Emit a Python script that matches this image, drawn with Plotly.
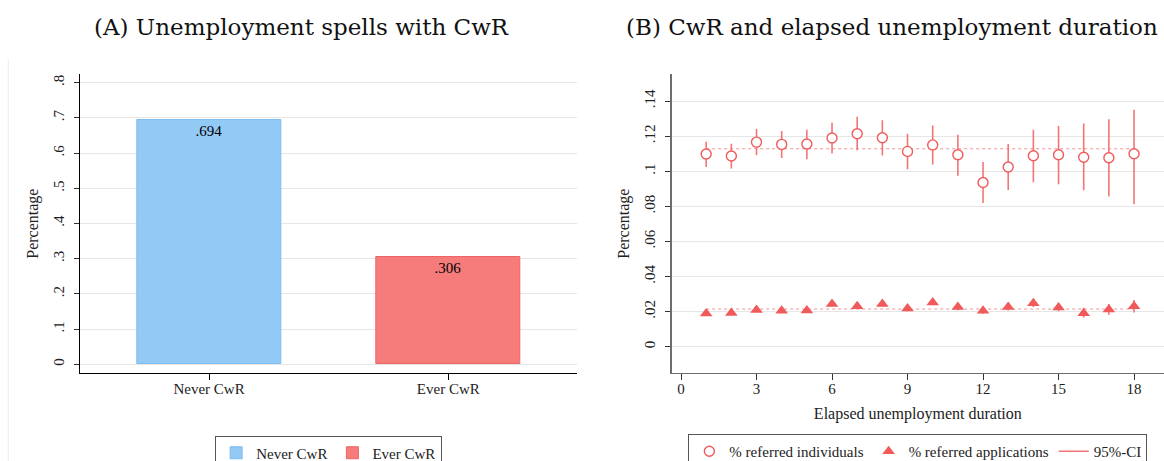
import plotly.graph_objects as go

# ---- Panel A: share of unemployment spells by CwR status ----
spell_groups = ["Never CwR", "Ever CwR"]
spell_shares = [0.694, 0.306]
bar_fill = ["#92C9F5", "#F67B7B"]
bar_edge = ["#7DBDF0", "#EE6464"]
share_ticks = [0, 0.1, 0.2, 0.3, 0.4, 0.5, 0.6, 0.7, 0.8]
share_tick_text = ["0", ".1", ".2", ".3", ".4", ".5", ".6", ".7", ".8"]

# ---- Panel B: CwR by elapsed unemployment duration (months) ----
months = list(range(1, 19))
ind_share = [0.1098, 0.1087, 0.1166, 0.1153, 0.1155, 0.1189, 0.1214, 0.1191, 0.1113,
             0.1150, 0.1094, 0.0936, 0.1024, 0.1088, 0.1094, 0.1080, 0.1077, 0.1100]
ind_lo = [0.1024, 0.1016, 0.1093, 0.1075, 0.1069, 0.1101, 0.1119, 0.1090, 0.1011,
          0.1039, 0.0975, 0.0819, 0.0893, 0.0938, 0.0926, 0.0892, 0.0856, 0.0812]
ind_hi = [0.1168, 0.1156, 0.1241, 0.1230, 0.1236, 0.1276, 0.1310, 0.1291, 0.1213,
          0.1260, 0.1208, 0.1052, 0.1155, 0.1236, 0.1258, 0.1272, 0.1296, 0.1350]
app_share = [0.0190, 0.0192, 0.0210, 0.0205, 0.0207, 0.0244, 0.0231, 0.0244, 0.0218,
             0.0252, 0.0226, 0.0206, 0.0226, 0.0248, 0.0224, 0.0191, 0.0213, 0.0231]
app_lo = [0.0178, 0.0180, 0.0198, 0.0193, 0.0195, 0.0230, 0.0217, 0.0229, 0.0203,
          0.0236, 0.0208, 0.0188, 0.0207, 0.0226, 0.0203, 0.0167, 0.0182, 0.0195]
app_hi = [0.0202, 0.0204, 0.0222, 0.0217, 0.0219, 0.0258, 0.0245, 0.0259, 0.0233,
          0.0268, 0.0244, 0.0224, 0.0245, 0.0270, 0.0245, 0.0222, 0.0244, 0.0267]
ind_mean = 0.1128
app_mean = 0.0215
dur_ticks = [0, 3, 6, 9, 12, 15, 18]
pct_ticks = [0, 0.02, 0.04, 0.06, 0.08, 0.10, 0.12, 0.14]
pct_tick_text = ["0", ".02", ".04", ".06", ".08", ".1", ".12", ".14"]

SERIF = "Liberation Serif"
TITLE_FONT = "DejaVu Serif"
RED = "#F05A5A"
CI_RED = "#F37575"
MEAN_RED = "#F59393"
GRID = "#E6E6E6"

W, H = 1164, 461


def px_x(p):
    return p / W


def px_y(p):
    return 1 - p / H


fig = go.Figure()

# Panel A bars, one trace per group so each gets a legend key
for name, val, fill, edge in zip(spell_groups, spell_shares, bar_fill, bar_edge):
    fig.add_trace(go.Bar(
        x=[name], y=[val], name=name, width=0.603,
        marker=dict(color=fill, line=dict(color=edge, width=1)),
        text=[f"{val:.3f}".lstrip("0")], textposition="inside",
        insidetextanchor="end", constraintext="none",
        textfont=dict(family=SERIF, size=15, color="black"),
        xaxis="x", yaxis="y", legend="legend",
    ))

# Panel B confidence intervals, drawn as broken vertical segments
ci_x, ci_y = [], []
for m, lo, hi in zip(months, ind_lo, ind_hi):
    ci_x += [m, m, None]
    ci_y += [lo, hi, None]
for m, lo, hi in zip(months, app_lo, app_hi):
    ci_x += [m, m, None]
    ci_y += [lo, hi, None]

# dotted reference lines at the overall averages
fig.add_trace(go.Scatter(
    x=[months[0], months[-1]], y=[ind_mean, ind_mean], mode="lines",
    line=dict(color=MEAN_RED, width=1, dash="dot"), showlegend=False,
    hoverinfo="skip", xaxis="x2", yaxis="y2"))
fig.add_trace(go.Scatter(
    x=[months[0], months[-1]], y=[app_mean, app_mean], mode="lines",
    line=dict(color=MEAN_RED, width=1, dash="dot"), showlegend=False,
    hoverinfo="skip", xaxis="x2", yaxis="y2"))

fig.add_trace(go.Scatter(
    x=ci_x, y=ci_y, mode="lines", name="95%-CI",
    line=dict(color=CI_RED, width=1.6), legendrank=3,
    xaxis="x2", yaxis="y2", legend="legend2"))

fig.add_trace(go.Scatter(
    x=months, y=ind_share, mode="markers", name="% referred individuals",
    marker=dict(symbol="circle", size=10, color="white",
                line=dict(color=RED, width=1.4)),
    legendrank=1, xaxis="x2", yaxis="y2", legend="legend2"))

fig.add_trace(go.Scatter(
    x=months, y=app_share, mode="markers", name="% referred applications",
    marker=dict(symbol="triangle-up", size=11, color=RED,
                line=dict(color=RED, width=0)),
    legendrank=2, xaxis="x2", yaxis="y2", legend="legend2"))

tick_font = dict(family=SERIF, size=15, color="#222")
title_font = dict(family=SERIF, size=16, color="#222")

# plot areas in pixels
A_L, A_R = 80.3, 577
B_L, B_R = 671.7, 1164
TOP, BOT = 74, 373.3

fig.update_layout(
    width=W, height=H,
    margin=dict(l=0, r=0, t=0, b=0, autoexpand=False),
    paper_bgcolor="white", plot_bgcolor="white",
    font=dict(family=SERIF, size=15, color="#222"),
    bargap=0,
    xaxis=dict(
        domain=[px_x(A_L), px_x(A_R)], anchor="y",
        type="category", categoryorder="array", categoryarray=spell_groups,
        range=[-0.538, 1.538], showgrid=False, zeroline=False,
        showline=True, linecolor="black", linewidth=1.3,
        ticks="outside", ticklen=6, tickcolor="black", tickwidth=1.3,
        tickfont=tick_font, ticklabelstandoff=-4,
    ),
    yaxis=dict(
        domain=[px_y(BOT), px_y(TOP)], anchor="x",
        range=[-0.0256, 0.8247], tickvals=share_ticks, ticktext=share_tick_text,
        tickangle=-90, showgrid=True, gridcolor=GRID, gridwidth=1.3,
        zeroline=False, showline=True, linecolor="black", linewidth=1.3,
        ticks="outside", ticklen=5, tickcolor="#333", tickwidth=1.3,
        tickfont=tick_font, ticklabelstandoff=4,
        title=dict(text="Percentage", font=title_font, standoff=8),
    ),
    xaxis2=dict(
        domain=[px_x(B_L), px_x(B_R)], anchor="y2",
        range=[-0.37, 19.19], tickvals=dur_ticks,
        showgrid=False, zeroline=False,
        showline=True, linecolor="#6E6E6E", linewidth=1.3,
        ticks="outside", ticklen=6, tickcolor="#333", tickwidth=1.3,
        tickfont=tick_font, ticklabelstandoff=-4,
        title=dict(text="Elapsed unemployment duration", font=title_font, standoff=11),
    ),
    yaxis2=dict(
        domain=[px_y(BOT), px_y(TOP)], anchor="x2",
        range=[-0.0151, 0.1554], tickvals=pct_ticks, ticktext=pct_tick_text,
        tickangle=-90, showgrid=True, gridcolor=GRID, gridwidth=1.3,
        zeroline=False, showline=True, linecolor="#6E6E6E", linewidth=2,
        ticks="outside", ticklen=5, tickcolor="#333", tickwidth=1.3,
        tickfont=tick_font, ticklabelstandoff=4,
        title=dict(text="Percentage", font=title_font, standoff=8),
    ),
    legend=dict(
        orientation="h", x=px_x((A_L + A_R) / 2), xanchor="center",
        y=px_y(435.5), yanchor="top",
        bordercolor="#555", borderwidth=1, bgcolor="white",
        font=dict(family=SERIF, size=15, color="#222"),
        itemwidth=30, tracegroupgap=0,
    ),
    legend2=dict(
        orientation="h", x=px_x((B_L + B_R) / 2), xanchor="center",
        y=px_y(434), yanchor="top",
        bordercolor="#555", borderwidth=1, bgcolor="white",
        font=dict(family=SERIF, size=15, color="#222"),
        itemwidth=30, traceorder="normal",
    ),
    annotations=[
        dict(text="(A) Unemployment spells with CwR", x=px_x(301.5), y=px_y(27),
             xref="paper", yref="paper", xanchor="center", yanchor="middle",
             showarrow=False, font=dict(family=TITLE_FONT, size=23, color="#111")),
        dict(text="(B) CwR and elapsed unemployment duration", x=px_x(892), y=px_y(27),
             xref="paper", yref="paper", xanchor="center", yanchor="middle",
             showarrow=False, font=dict(family=TITLE_FONT, size=23, color="#111")),
    ],
    shapes=[
        dict(type="line", xref="paper", yref="paper",
             x0=px_x(8.3), x1=px_x(8.3), y0=0, y1=px_y(59),
             line=dict(color="#EFEFEF", width=1.2)),
    ],
)

fig.write_html("out.html")
